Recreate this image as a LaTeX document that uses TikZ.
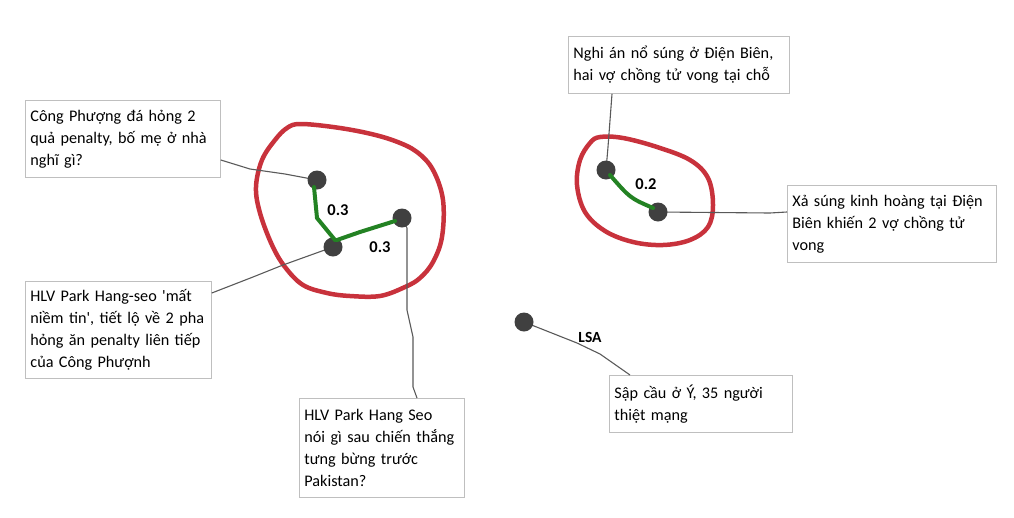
\documentclass[tikz,border=0pt]{standalone}
\usepackage{fontspec}
\setmainfont{Carlito}[Ligatures=TeXOff]
\begin{document}
\begin{tikzpicture}[x=1pt,y=-1pt,
  box/.style={draw=black!25,line width=0.8pt,anchor=north west,align=left,inner xsep=5pt,inner ysep=0pt,
    font=\fontsize{16.2}{22}\selectfont},
  dot/.style={circle,fill=black!75,inner sep=0pt,minimum size=19pt},
  conn/.style={draw=black!65,line width=1.1pt},
  grp/.style={line width=4.5pt,line join=round},
  simedge/.style={line width=4pt,line cap=round,line join=round},
  lab/.style={font=\fontsize{16.5}{20}\selectfont\bfseries,inner sep=0pt}]
\useasboundingbox (0,0) rectangle (1014,517);
\definecolor{grpred}{RGB}{200,50,60}
\definecolor{simgreen}{RGB}{35,130,35}
\tikzset{grp/.append style={draw=grpred},simedge/.append style={draw=simgreen}}

% boxes
\node[box,text width=185pt,minimum height=77pt] (b1) at (25,100) {\mbox{Công Phượng đá hỏng 2}\\\mbox{quả penalty, bố mẹ ở nhà}\\\mbox{nghĩ gì?}};
\node[box,text width=176pt,minimum height=97pt] (b2) at (25,281) {\mbox{HLV Park Hang-seo 'mất}\\\mbox{niềm tin', tiết lộ về 2 pha}\\\mbox{hỏng ăn penalty liên tiếp}\\\mbox{của Công Phượnh}};
\node[box,text width=155pt,minimum height=99pt] (b3) at (299,398) {\mbox{HLV Park Hang Seo}\\\mbox{nói gì sau chiến thắng}\\\mbox{tưng bừng trước}\\\mbox{Pakistan?}};
\node[box,text width=211pt,minimum height=57pt] (b4) at (568,36) {\mbox{Nghi án nổ súng ở Điện Biên,}\\\mbox{hai vợ chồng tử vong tại chỗ}};
\node[box,text width=199pt,minimum height=77pt] (b5) at (787,185) {\mbox{Xả súng kinh hoàng tại Điện}\\\mbox{Biên khiến 2 vợ chồng tử}\\\mbox{vong}};
\node[box,text width=173pt,minimum height=57pt] (b6) at (609,375) {\mbox{Sập cầu ở Ý, 35 người}\\\mbox{thiệt mạng}};

% red groups
\draw[grp] plot[smooth cycle,tension=0.6] coordinates {(300,124) (333,127) (367,133) (395,141) (417,152) (433,170) (443,200) (442,237) (433,262) (420,278) (405,287) (380,296) (350,296) (327,293) (303,285) (285,267) (272,245) (260,213) (256,187) (262,160) (275,140) (287,128)};
\draw[grp] plot[smooth cycle,tension=0.6] coordinates {(600,137) (623,138) (657,147) (690,160) (708,178) (713,205) (708,227) (690,240) (663,245) (633,242) (605,231) (585,212) (577,185) (580,160) (590,143)};

% dots
\coordinate (pA) at (317,180);
\coordinate (pB) at (333,247);
\coordinate (pC) at (402,218);
\coordinate (pD) at (606,170);
\coordinate (pE) at (658,212);
\coordinate (pF) at (524,322);

% connectors (behind dots)
\draw[conn] ([yshift=-60pt]b1.north east) -- (250,169) -- (285,174) -- (pA);
\draw[conn] (pB) -- (283,265) -- (253,277) -- ([yshift=-12pt]b2.north east);
\draw[conn] (pC) -- (407,228) -- (407,310) -- (413,337) -- (413,387) -- ([xshift=118pt]b3.north west);
\draw[conn] ([xshift=44pt]b4.south west) -- (608,147) -- (pD);
\draw[conn] (pE) -- (770,213) -- ([yshift=-27pt]b5.north west);
\draw[conn] (pF) -- (577,343) -- (600,354) -- ([xshift=21pt]b6.north west);

\node[dot] (A) at (pA) {};
\node[dot] (B) at (pB) {};
\node[dot] (C) at (pC) {};
\node[dot] (D) at (pD) {};
\node[dot] (E) at (pE) {};
\node[dot] (F) at (pF) {};

% similarity edges
\draw[simedge] ([shift={(-3,7)}]A.center) -- (317,218) -- ([shift={(2,-7)}]B.center);
\draw[simedge] ([shift={(4,-7)}]B.center) -- (360,232) -- ([shift={(-7,3)}]C.center);
\draw[simedge] ([shift={(4,5)}]D.center) .. controls (630,198) .. ([shift={(-5,-4)}]E.center);

% labels
\node[lab] (l1) at (338,210) {0.3};
\node[lab] (l2) at (380,247) {0.3};
\node[lab] (l3) at (646,184) {0.2};
\node[lab,font=\fontsize{15.5}{19}\selectfont\bfseries] (l4) at (590,337) {LSA};
\end{tikzpicture}
\end{document}
